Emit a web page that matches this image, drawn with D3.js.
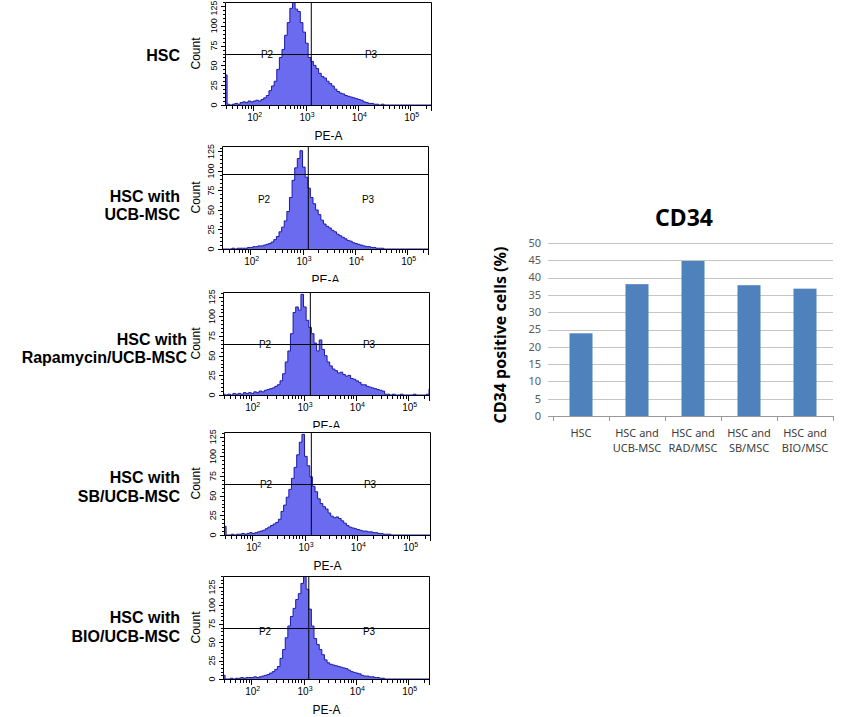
<!DOCTYPE html>
<html><head><meta charset="utf-8">
<script src="https://cdn.jsdelivr.net/npm/d3@7"></script>
<style>body{margin:0;background:#fff}svg{display:block}</style>
</head><body>
<svg id="c" width="851" height="717"></svg>
<script>
// ---------- DATA ----------
// histogram bins (log10 PE-A, lower edges)
const binEdges = [1.45,1.50,1.55,1.60,1.65,1.70,1.75,1.80,1.85,1.90,
  1.95,2.00,2.05,2.10,2.15,2.20,2.25,2.30,2.35,2.40,
  2.45,2.50,2.55,2.60,2.65,2.70,2.75,2.80,2.85,2.90,
  2.95,3.00,3.05,3.10,3.15,3.20,3.25,3.30,3.35,3.40,
  3.45,3.50,3.55,3.60,3.65,3.70,3.75,3.80,3.85,3.90,
  3.95,4.00,4.05,4.10,4.15,4.20,4.25,4.30,4.35,4.40,
  4.45,4.50,4.55,4.60,4.65,4.70,4.75,4.80,4.85,4.90,
  4.95,5.00,5.05,5.10,5.15,5.20,5.25,5.30,5.35,5.40];
const binEnd = 5.45;

const countsHSC = [38,1,0,1,2,1,3,4,3,5, 4,5,6,5,7,9,12,18,24,30,
  45,60,70,88,104,122,130,121,118,104, 92,78,60,55,50,46,40,36,34,30,
  27,24,20,17,15,14,12,11,10,9, 8,7,6,4,3,2,2,1,1,0,
  1,0,0,0,0,0,0,0,0,0, 0,0,0,0,0,0,0,0,0,0];
const countsUCB = [0,0,0,0,1,0,1,1,1,1, 2,2,3,3,4,4,5,6,7,9,
  12,16,22,28,36,48,66,88,104,116, 126,105,92,78,66,58,50,44,37,32,
  29,27,24,22,19,17,15,13,11,10, 8,7,6,5,4,3,3,2,2,1,
  1,1,0,0,0,0,0,0,0,0, 0,0,0,0,0,0,0,0,0,0];
const countsRAP = [1,0,1,0,2,1,2,1,3,2, 3,2,4,3,5,4,6,7,8,9,
  11,13,18,27,42,56,78,105,112,108, 128,112,95,86,78,66,56,70,58,50,
  42,37,33,31,28,29,26,24,25,21, 20,18,16,13,13,11,10,9,8,7,
  6,5,1,1,0,1,0,0,1,0, 0,0,0,1,0,0,0,0,1,8];
const countsSB = [11,0,0,1,0,1,1,2,1,2, 3,2,3,4,5,6,8,10,12,14,
  16,20,30,38,48,58,72,86,102,118, 128,100,88,74,62,55,46,40,36,33,
  28,24,22,23,21,18,15,12,10,9, 8,7,6,5,5,4,4,3,3,2,
  2,1,1,1,0,0,0,0,0,0, 0,0,0,0,0,0,0,0,0,0];
const countsBIO = [5,0,0,1,0,1,1,2,1,2, 2,2,3,2,3,4,5,6,8,10,
  13,17,28,40,56,72,85,96,108,116, 130,145,122,95,72,55,47,40,33,26,
  22,20,19,18,17,16,15,14,12,10, 9,8,7,5,4,4,3,3,2,2,
  1,1,0,0,0,0,0,0,0,0, 0,0,0,0,0,0,0,0,0,0];

const panelCounts = [countsHSC, countsUCB, countsRAP, countsSB, countsBIO];
const panelLabels = [["HSC"], ["HSC with","UCB-MSC"], ["HSC with","Rapamycin/UCB-MSC"],
  ["HSC with","SB/UCB-MSC"], ["HSC with","BIO/UCB-MSC"]];
const gateX = [3.11, 3.11, 3.13, 3.13, 3.10];   // log10 PE-A of vertical gate
const gateY = [65, 96, 65, 65, 70];             // count of horizontal line
const countMax = [130, 132, 131, 131, 140];
const peDomain = [1.46, 5.418];
const countTicks = [0, 25, 50, 75, 100, 125];
const decadeTicks = [2, 3, 4, 5];
const gateNames = ["P2", "P3"];

const barCats = [["HSC"], ["HSC and","UCB-MSC"], ["HSC and","RAD/MSC"], ["HSC and","SB/MSC"], ["HSC and","BIO/MSC"]];
const barValues = [23.9, 38.1, 44.8, 37.8, 36.8];
const barTicks = [0,5,10,15,20,25,30,35,40,45,50];

// ---------- LAYOUT ----------
const panelLeft = [225, 222, 223, 224, 223];
const panelBottom = [105, 249, 395, 535, 679];
const panelH = 103, panelW = 207;
const bgTop = [0, 141, 282, 428, 570];
const labelRight = [180, 180, 187, 180, 180];
const labelBase = [[61], [202, 220], [345, 363], [483, 502], [623, 642]];

const svg = d3.select("#c");
const AR = "'Liberation Sans', Arial, sans-serif";
const NS = "'Noto Sans', 'Open Sans', sans-serif";

panelCounts.forEach((counts, p) => {
  const L = panelLeft[p], B = panelBottom[p], T = B - panelH, R = L + panelW;
  const g = svg.append("g");
  g.append("rect").attr("x", 188).attr("y", bgTop[p]).attr("width", 255)
    .attr("height", B + 40 - bgTop[p]).attr("fill", "#fff");

  const x = d3.scaleLinear().domain(peDomain).range([L, R]);
  const y = d3.scaleLinear().domain([0, countMax[p]]).range([B, T]);

  const cid = "clip" + p;
  g.append("clipPath").attr("id", cid).append("rect")
    .attr("x", L).attr("y", T).attr("width", panelW).attr("height", panelH);

  const pts = binEdges.map((e, i) => ({ x: e, c: counts[i] }));
  pts.push({ x: binEnd, c: counts[counts.length - 1] });
  const area = d3.area().curve(d3.curveStepAfter)
    .x(d => x(d.x)).y0(y(0)).y1(d => y(d.c));
  const line = d3.line().curve(d3.curveStepAfter)
    .x(d => x(d.x)).y(d => y(d.c));
  const hg = g.append("g").attr("clip-path", `url(#${cid})`);
  hg.append("path").datum(pts).attr("d", area).attr("fill", "#6b6bf0");
  hg.append("path").datum(pts).attr("d", line).attr("fill", "none")
    .attr("stroke", "#1a1aa8").attr("stroke-width", 1);

  // gates
  g.append("line").attr("x1", x(gateX[p])).attr("x2", x(gateX[p]))
    .attr("y1", T).attr("y2", B).attr("stroke", "#000").attr("stroke-width", 1);
  g.append("line").attr("x1", L).attr("x2", R)
    .attr("y1", Math.round(y(gateY[p])) + 0.5).attr("y2", Math.round(y(gateY[p])) + 0.5)
    .attr("stroke", "#000").attr("stroke-width", 1);
  g.append("text").attr("x", L + 42).attr("y", y(64)).attr("dy", "0.35em")
    .attr("text-anchor", "middle").attr("font-family", AR).attr("font-size", 10)
    .text(gateNames[0]);
  g.append("text").attr("x", L + 146).attr("y", y(64)).attr("dy", "0.35em")
    .attr("text-anchor", "middle").attr("font-family", AR).attr("font-size", 10)
    .text(gateNames[1]);

  // frame
  g.append("path").attr("d", `M${L + 0.5},${B}V${T + 0.5}H${R - 0.5}V${B}`)
    .attr("fill", "none").attr("stroke", "#000");
  g.append("line").attr("x1", L).attr("x2", R).attr("y1", B + 0.5).attr("y2", B + 0.5)
    .attr("stroke", "#000");

  // y ticks
  for (let c = 0; c <= countMax[p]; c += 5) {
    const major = countTicks.includes(c);
    const yy = Math.round(y(c)) + 0.5;
    g.append("line").attr("x1", L - (major ? 4 : 2)).attr("x2", L)
      .attr("y1", yy).attr("y2", yy).attr("stroke", "#000");
  }
  countTicks.forEach(c => {
    const cy = Math.max(y(c), 8);
    g.append("text").attr("transform", `translate(${L - 8},${cy}) rotate(-90)`)
      .attr("text-anchor", "middle").attr("font-family", AR).attr("font-size", 9)
      .text(c);
  });
  g.append("text").attr("transform", `translate(200,${(T + B) / 2}) rotate(-90)`)
    .attr("text-anchor", "middle").attr("font-family", AR).attr("font-size", 12)
    .text("Count");

  // x ticks
  for (let d = 1; d <= 5; d++) {
    for (let m = 1; m <= 9; m++) {
      const lv = d + Math.log10(m);
      if (lv < peDomain[0] || lv > peDomain[1]) continue;
      const xx = Math.round(x(lv)) + 0.5;
      g.append("line").attr("x1", xx).attr("x2", xx).attr("y1", B)
        .attr("y2", B + (m === 1 ? 6 : 4)).attr("stroke", "#000");
    }
  }
  g.append("line").attr("x1", R - 0.5).attr("x2", R - 0.5).attr("y1", B).attr("y2", B + 6).attr("stroke", "#000");
  decadeTicks.forEach(d => {
    const t = g.append("text").attr("x", x(d) - 6).attr("y", B + 16)
      .attr("font-family", AR).attr("font-size", 10);
    t.append("tspan").text("10");
    t.append("tspan").attr("dy", -4).attr("font-size", 7).text(d);
  });
  g.append("text").attr("x", (L + R) / 2).attr("y", B + 35).attr("text-anchor", "middle")
    .attr("font-family", AR).attr("font-size", 12).text("PE-A");
});

// left sample labels
panelLabels.forEach((lines, p) => {
  lines.forEach((s, i) => {
    svg.append("text").attr("x", labelRight[p]).attr("y", labelBase[p][i])
      .attr("text-anchor", "end").attr("font-family", AR).attr("font-weight", "bold")
      .attr("font-size", 16).text(s);
  });
});

// ---------- BAR CHART ----------
const bx = d3.scaleBand().domain(d3.range(barValues.length)).range([553, 833])
  .paddingInner(0.589).paddingOuter(0.2945);
const by = d3.scaleLinear().domain([0, 50]).range([416, 243]);
const bg = svg.append("g");
barTicks.forEach(t => {
  const yy = Math.round(by(t)) + 0.5;
  bg.append("line").attr("x1", 548).attr("x2", 833).attr("y1", yy).attr("y2", yy)
    .attr("stroke", t === 0 ? "#9a9a9a" : "#c4c4c4").attr("stroke-width", 1);
  bg.append("text").attr("x", 541).attr("y", by(t)).attr("dy", "0.35em")
    .attr("text-anchor", "end").attr("font-family", NS).attr("font-size", 11)
    .attr("fill", "#595959").text(t);
});
for (let i = 0; i <= barValues.length; i++) {
  const xx = Math.round(553 + bx.step() * i) + 0.5;
  bg.append("line").attr("x1", xx).attr("x2", xx).attr("y1", 416).attr("y2", 421)
    .attr("stroke", "#9a9a9a");
}
bg.selectAll("rect.bar").data(barValues).join("rect").attr("class", "bar")
  .attr("x", (d, i) => bx(i)).attr("width", bx.bandwidth())
  .attr("y", d => by(d)).attr("height", d => by(0) - by(d)).attr("fill", "#4f81bd");
barCats.forEach((lines, i) => {
  lines.forEach((s, j) => {
    bg.append("text").attr("x", bx(i) + bx.bandwidth() / 2).attr("y", 437 + j * 15)
      .attr("text-anchor", "middle").attr("font-family", NS).attr("font-size", 11)
      .attr("fill", "#404040").text(s);
  });
});
bg.append("text").attr("x", 684).attr("y", 226).attr("text-anchor", "middle")
  .attr("font-family", NS).attr("font-weight", "bold").attr("font-size", 23)
  .text("CD34");
bg.append("text").attr("transform", "translate(506,335) rotate(-90)")
  .attr("text-anchor", "middle").attr("font-family", NS).attr("font-weight", "bold")
  .attr("font-size", 16).text("CD34 positive cells (%)");
</script>
</body></html>
